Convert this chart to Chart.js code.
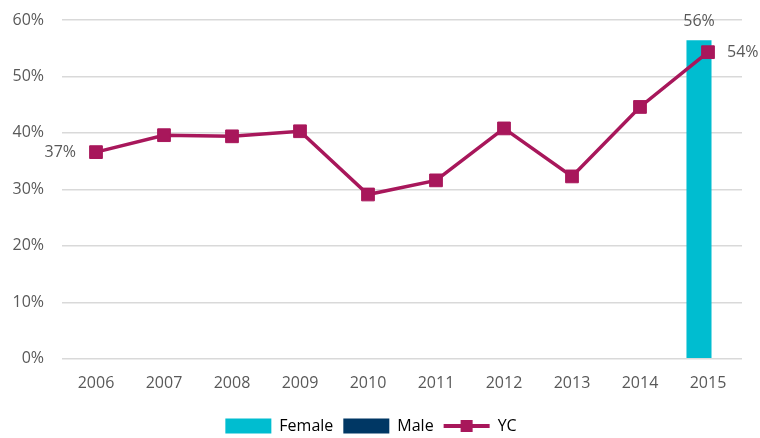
<!DOCTYPE html>
<html>
<head>
<meta charset="utf-8">
<script src="https://cdn.jsdelivr.net/npm/chart.js@4.4.1/dist/chart.umd.min.js"></script>
<style>
  html, body { margin: 0; padding: 0; background: #fff; }
  #wrap { width: 760px; height: 438px; }
</style>
</head>
<body>
<div id="wrap"><canvas id="lineChart"></canvas></div>
<script>
Chart.defaults.font.family = '"Open Sans", sans-serif';
Chart.defaults.font.size = 16;
Chart.defaults.color = '#595959';

// data
const years = ['2006', '2007', '2008', '2009', '2010', '2011', '2012', '2013', '2014', '2015'];
const female = [null, null, null, null, null, null, null, null, null, 56.4];
const male = [null, null, null, null, null, null, null, null, null, null];
const yc = [36.6, 39.6, 39.4, 40.3, 29.1, 31.6, 40.8, 32.3, 44.6, 54.3];
const yTicks = [0, 10, 20, 30, 40, 50, 60];

const FEMALE_COLOR = '#00BDD0';
const MALE_COLOR = '#003764';
const YC_COLOR = '#A8175B';

// labels on a few points + YC legend marker
const labelPlugin = {
  id: 'labelPlugin',
  afterDatasetsDraw(chart) {
    const ctx = chart.ctx;
    ctx.save();
    ctx.font = '16px "Open Sans", sans-serif';
    ctx.fillStyle = '#595959';
    ctx.textBaseline = 'middle';

    // 56% above the female bar
    const bar = chart.getDatasetMeta(0).data[9];
    ctx.textAlign = 'center';
    ctx.fillText(Math.round(female[9]) + '%', bar.x, bar.y - 19);

    // first and last YC labels
    const lineMeta = chart.getDatasetMeta(2);
    const p0 = lineMeta.data[0];
    ctx.textAlign = 'right';
    ctx.fillText(Math.round(yc[0]) + '%', p0.x - 20, p0.y);
    const pl = lineMeta.data[9];
    ctx.textAlign = 'left';
    ctx.fillText(Math.round(yc[9]) + '%', pl.x + 19, pl.y);
    ctx.restore();
  },
  afterDraw(chart) {
    const box = chart.legend.legendHitBoxes[2];
    if (!box) return;
    const ctx = chart.ctx;
    const bw = chart.legend.options.labels.boxWidth;
    const cy = box.top + box.height / 2;
    ctx.save();
    ctx.strokeStyle = YC_COLOR;
    ctx.lineWidth = 4;
    ctx.beginPath();
    ctx.moveTo(box.left, cy);
    ctx.lineTo(box.left + bw, cy);
    ctx.stroke();
    ctx.fillStyle = YC_COLOR;
    ctx.fillRect(box.left + bw / 2 - 6, cy - 6, 12, 12);
    ctx.restore();
  }
};

const chart_ctx = document.getElementById('lineChart');
var comboChart = new Chart(chart_ctx, {
  type: 'bar',
  data: {
    labels: years,
    datasets: [{
      label: 'Female',
      data: female,
      backgroundColor: FEMALE_COLOR,
      categoryPercentage: 0.53,
      barPercentage: 1.39,
      order: 2
    }, {
      label: 'Male',
      data: male,
      backgroundColor: MALE_COLOR,
      categoryPercentage: 0.53,
      barPercentage: 1.39,
      order: 3
    }, {
      type: 'line',
      label: 'YC',
      data: yc,
      borderColor: YC_COLOR,
      backgroundColor: YC_COLOR,
      borderWidth: 3.5,
      pointStyle: 'rect',
      pointRadius: 9,
      pointBorderWidth: 1,
      tension: 0,
      order: 1
    }]
  },
  options: {
    responsive: true,
    maintainAspectRatio: false,
    animation: false,
    layout: {
      padding: { top: 20, right: 18, left: 0, bottom: -6 }
    },
    plugins: {
      legend: {
        position: 'bottom',
        labels: {
          boxWidth: 46,
          boxHeight: 15,
          padding: 10,
          color: '#595959',
          font: { size: 16 },
          generateLabels(chart) {
            return chart.data.datasets.map((ds, i) => ({
              text: ds.label,
              fillStyle: i === 2 ? 'rgba(0,0,0,0)' : ds.backgroundColor,
              strokeStyle: 'rgba(0,0,0,0)',
              lineWidth: 0,
              datasetIndex: i,
              hidden: false
            }));
          }
        }
      },
      tooltip: { enabled: false }
    },
    scales: {
      x: {
        grid: { display: false, drawTicks: false },
        border: { display: false },
        ticks: { padding: 15 }
      },
      y: {
        min: 0,
        max: 60,
        afterBuildTicks(axis) {
          axis.ticks = yTicks.map(v => ({ value: v }));
        },
        afterFit(axis) {
          axis.width = 62;
          axis.paddingTop = 0;
          axis.paddingBottom = 0;
        },
        grid: { color: '#D9D9D9', lineWidth: 1.5, drawTicks: false },
        border: { display: false },
        ticks: {
          padding: 18,
          callback: v => v + '%'
        }
      }
    }
  },
  plugins: [labelPlugin]
});
</script>
</body>
</html>
